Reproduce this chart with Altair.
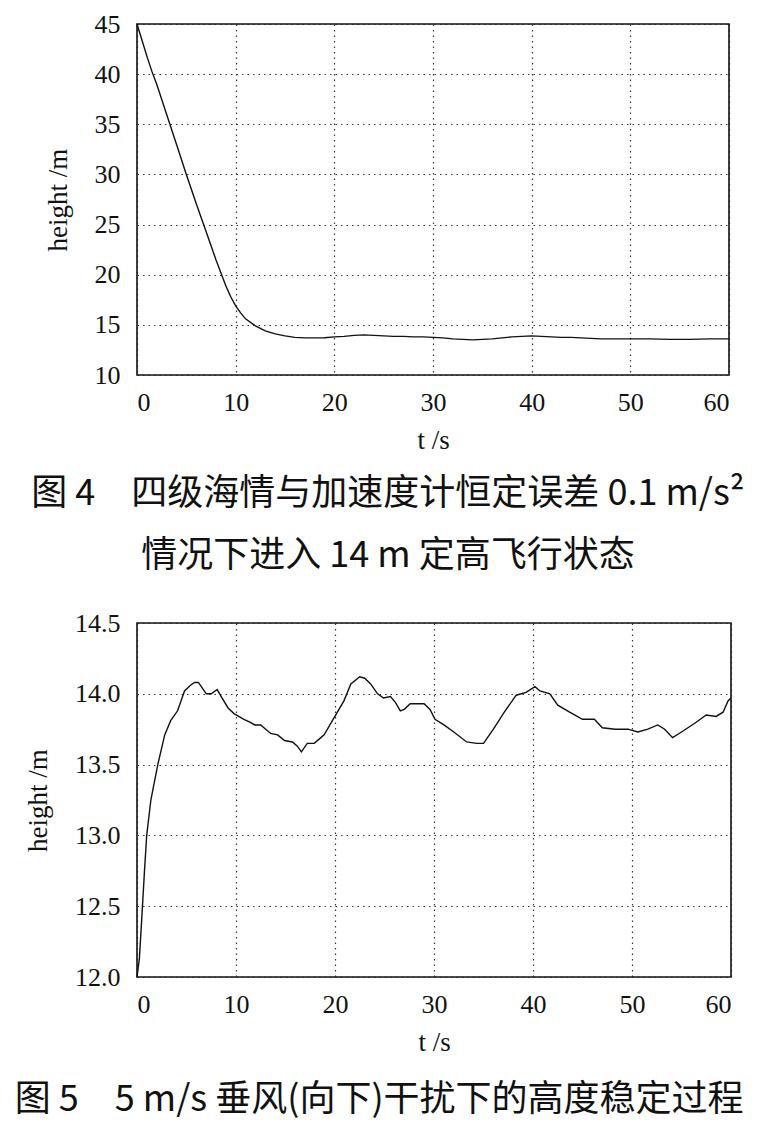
import altair as alt
import pandas as pd

# ---- Figure 4 data: height (m) vs time (s)
t1 = [0, 0.5, 1, 1.5, 2, 3, 4, 5, 6, 7, 8, 9, 9.5, 10, 10.5, 11, 12, 13, 14, 15, 16, 17, 18,
      19, 20, 21, 22, 23, 24, 25, 26, 27, 28, 29, 30, 31, 32, 33, 34, 35, 36, 37, 38, 39,
      40, 41, 42, 43, 44, 45, 46, 47, 48, 49, 50, 52, 54, 56, 58, 60]
h1 = [45, 43.4, 41.8, 40.3, 39.0, 36.0, 33.0, 30.0, 27.1, 24.3, 21.5, 18.9, 17.8, 16.9, 16.2,
      15.6, 14.9, 14.4, 14.1, 13.9, 13.75, 13.7, 13.7, 13.72, 13.8, 13.85, 13.95, 14.0, 13.95,
      13.9, 13.85, 13.85, 13.8, 13.8, 13.75, 13.7, 13.6, 13.55, 13.5, 13.55, 13.6, 13.7, 13.8,
      13.85, 13.9, 13.85, 13.8, 13.75, 13.75, 13.7, 13.65, 13.6, 13.6, 13.6, 13.6, 13.6, 13.55,
      13.55, 13.6, 13.6]

# ---- Figure 5 data: height (m) vs time (s)
t2 = [0, 0.24, 0.47, 0.74, 0.98, 1.4, 2.1, 2.8, 3.4, 4.1, 4.8, 5.4, 5.8, 6.2, 6.6, 7.0, 7.5,
      8.1, 8.6, 9.2, 9.8, 10.8, 11.4, 11.9, 12.5, 13.0, 13.5, 14.2, 14.9, 15.7, 16.2, 16.6,
      17.2, 17.9, 18.4, 18.9, 19.9, 20.9, 21.6, 22.5, 23.0, 23.6, 24.3, 24.9, 25.6, 26.1,
      26.6, 27.0, 27.6, 29.0, 29.6, 30.1, 31.0, 32.0, 33.3, 34.3, 35.0, 36.0, 37.0, 38.3,
      39.3, 40.2, 40.7, 41.7, 42.5, 43.7, 45.0, 46.2, 47.0, 48.3, 49.6, 50.6, 51.6, 52.6,
      53.3, 54.1, 55.0, 56.3, 57.5, 58.5, 59.2, 59.7, 60]
h2 = [12.0, 12.13, 12.4, 12.73, 13.0, 13.25, 13.5, 13.71, 13.81, 13.88, 14.02, 14.06, 14.08,
      14.08, 14.04, 14.0, 14.0, 14.03, 13.97, 13.9, 13.86, 13.82, 13.8, 13.78, 13.78, 13.75,
      13.72, 13.71, 13.67, 13.66, 13.63, 13.59, 13.65, 13.65, 13.68, 13.71, 13.83, 13.95,
      14.07, 14.12, 14.11, 14.07, 14.0, 13.97, 13.98, 13.94, 13.88, 13.89, 13.93, 13.93,
      13.89, 13.82, 13.78, 13.73, 13.66, 13.65, 13.65, 13.75, 13.86, 13.99, 14.01, 14.05,
      14.02, 14.0, 13.92, 13.87, 13.82, 13.82, 13.76, 13.75, 13.75, 13.73, 13.75, 13.78,
      13.75, 13.69, 13.73, 13.79, 13.85, 13.84, 13.87, 13.95, 13.97]

x_ticks = [0, 10, 20, 30, 40, 50, 60]
y1_ticks = [10, 15, 20, 25, 30, 35, 40, 45]
y2_ticks = [12.0, 12.5, 13.0, 13.5, 14.0, 14.5]

caption4 = ["图 4\u3000四级海情与加速度计恒定误差 0.1 m/s²", "情况下进入 14 m 定高飞行状态"]
caption5 = "图 5\u30005 m/s 垂风(向下)干扰下的高度稳定过程"

df1 = pd.DataFrame({"t": t1, "h": h1})
df2 = pd.DataFrame({"t": t2, "h": h2})

SERIF = "Liberation Serif"
CJK = "Noto Sans CJK SC"

x_axis = alt.Axis(values=x_ticks, title="t /s", labelPadding=14, titlePadding=12)

top = alt.Chart(df1).mark_line(color="#111", strokeWidth=1.4).encode(
    x=alt.X("t:Q", scale=alt.Scale(domain=[0, 60], nice=False), axis=x_axis),
    y=alt.Y("h:Q", scale=alt.Scale(domain=[10, 45], nice=False),
            axis=alt.Axis(values=y1_ticks, title="height /m")),
).properties(
    width=592, height=351,
    title=alt.TitleParams(text=caption4, orient="bottom", anchor="middle", frame="bounds",
                          font=CJK, fontSize=36, fontWeight="normal", color="#111",
                          lineHeight=62, offset=24),
)

bottom = alt.Chart(df2).mark_line(color="#111", strokeWidth=1.4).encode(
    x=alt.X("t:Q", scale=alt.Scale(domain=[0, 60], nice=False), axis=x_axis),
    y=alt.Y("h:Q", scale=alt.Scale(domain=[12, 14.5], nice=False),
            axis=alt.Axis(values=y2_ticks, format=".1f", title="height /m")),
).properties(
    width=594, height=354,
    title=alt.TitleParams(text=caption5, orient="bottom", anchor="middle", frame="bounds",
                          font=CJK, fontSize=36, fontWeight="normal", color="#111",
                          offset=28),
)

chart = alt.vconcat(top, bottom, spacing=34).properties(
    padding={"left": 5, "top": 2, "right": 5, "bottom": 5},
    background="white",
).configure_view(
    stroke="#111", strokeWidth=1.6,
).configure_axis(
    labelFont=SERIF, labelFontSize=26, labelColor="#111",
    titleFont=SERIF, titleFontSize=27, titleFontWeight="normal", titleColor="#111",
    labelPadding=17, titlePadding=22,
    domain=False, ticks=False,
    grid=True, gridColor="#222", gridDash=[1.5, 4], gridWidth=1.2, gridOpacity=0.9,
)

chart.save("out.html", embed_options={"renderer": "svg", "actions": False})
